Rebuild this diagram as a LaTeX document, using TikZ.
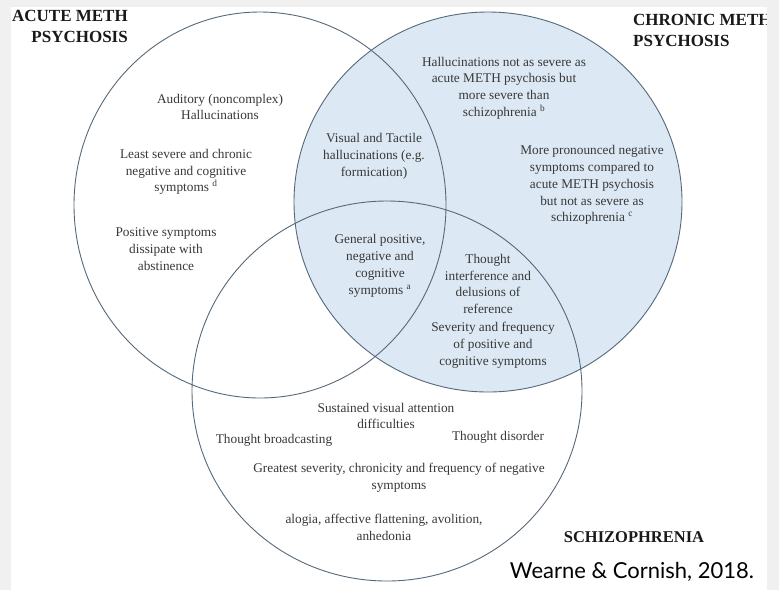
\documentclass[tikz,border=0pt]{standalone}
\usepackage{fontspec}
\setmainfont{Liberation Serif}
\newfontfamily\citefont{Lato}
\usepackage{tikz}
\definecolor{vennline}{HTML}{56697A}
\definecolor{vennfill}{HTML}{DCE8F4}
\definecolor{venntext}{HTML}{383838}
\definecolor{frame}{HTML}{F0F0F0}

\begin{document}
\begin{tikzpicture}[x=1pt,y=-1pt]
\tikzstyle{set}=[draw=vennline, line width=0.9pt]
\tikzstyle{txt}=[align=center, inner sep=0pt, text=venntext, font=\fontsize{13.3}{16.8}\selectfont]
\tikzstyle{title}=[inner sep=0pt, text=black!90, font=\fontsize{17}{21}\selectfont\bfseries]
\useasboundingbox (0,0) rectangle (779,590);
  \fill[frame] (0,0) rectangle (779,590);
  \fill[white] (11,7) rectangle (767,590);
  % the three sets
  \fill[vennfill] (488,202) ellipse [x radius=194, y radius=190];
  \draw[set] (260,205) ellipse [x radius=186, y radius=193];
  \draw[set] (488,202) ellipse [x radius=194, y radius=190];
  \draw[set] (387,391) ellipse [x radius=195, y radius=190];
  % set names
  \node[title, align=right, anchor=east] (acute) at (128,26) {ACUTE METH\\PSYCHOSIS};
  \node[title, align=left, anchor=west] (chronic) at (633,30) {CHRONIC METH\\PSYCHOSIS};
  \node[title, font=\fontsize{16.5}{20}\selectfont\bfseries] (schizo) at (634,537) {SCHIZOPHRENIA};
  % acute only
  \node[txt] (aud) at (220,107) {Auditory (noncomplex)\\Hallucinations};
  \node[txt] (least) at (186,172) {Least severe and chronic\\negative and cognitive\\symptoms \textsuperscript{d}};
  \node[txt] (pos) at (166,249) {Positive symptoms\\dissipate with\\abstinence};
  % chronic only
  \node[txt] (hall) at (504,88) {Hallucinations not as severe as\\acute METH psychosis but\\more severe than\\schizophrenia \textsuperscript{b}};
  \node[txt] (neg) at (592,185) {More pronounced negative\\symptoms compared to\\acute METH psychosis\\but not as severe as\\schizophrenia \textsuperscript{c}};
  % overlaps
  \node[txt] (vis) at (374,156) {Visual and Tactile\\hallucinations (e.g.\\formication)};
  \node[txt] (gen) at (380,266) {General positive,\\negative and\\cognitive\\symptoms \textsuperscript{a}};
  \node[txt] (interf) at (488,284) {Thought\\interference and\\delusions of\\reference};
  \node[txt] (sev) at (493,345) {Severity and frequency\\of positive and\\cognitive symptoms};
  % schizophrenia only
  \node[txt] (sust) at (386,416) {Sustained visual attention\\difficulties};
  \node[txt] (broad) at (274,440) {Thought broadcasting};
  \node[txt] (dis) at (498,437) {Thought disorder};
  \node[txt] (great) at (399,478) {Greatest severity, chronicity and frequency of negative\\symptoms};
  \node[txt] (alog) at (384,527) {alogia, affective flattening, avolition,\\anhedonia};
  % source
  \node[inner sep=0pt, font=\citefont\fontsize{22}{26}\selectfont] (cite) at (632,572) {Wearne \& Cornish, 2018.};
  \fill[frame] (767,0) rectangle (779,590);
\end{tikzpicture}
\end{document}
